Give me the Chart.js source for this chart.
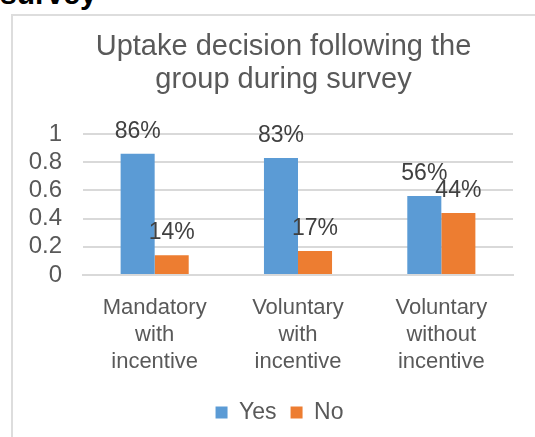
<!DOCTYPE html>
<html>
<head>
<meta charset="utf-8">
<script src="https://cdn.jsdelivr.net/npm/chart.js@4/dist/chart.umd.min.js"></script>
<style>
  html, body { margin: 0; padding: 0; background: #fff; overflow: hidden; }
  #heading {
    position: absolute; left: 0; top: -21px;
    font: bold 30px "Liberation Sans", Arial, sans-serif;
    line-height: 30px; color: #000; white-space: nowrap;
  }
  #frame {
    position: absolute; left: 11px; top: 14px;
    width: 600px; height: 500px;
    border: 2px solid #DDDDDD;
  }
  #wrap { position: absolute; left: 0; top: 0; width: 535px; height: 437px; }
</style>
</head>
<body>
<div id="heading">survey</div>
<div id="frame"></div>
<div id="wrap"><canvas id="chart" width="535" height="437"></canvas></div>
<script>
const categories = [
    ['Mandatory', 'with', 'incentive'],
    ['Voluntary', 'with', 'incentive'],
    ['Voluntary', 'without', 'incentive']
];
const yesValues = [0.86, 0.83, 0.56];
const noValues = [0.14, 0.17, 0.44];
const yTicks = [0, 0.2, 0.4, 0.6, 0.8, 1];

const FONT = '"Liberation Sans", Arial, sans-serif';
const TEXT = '#595959';

// percentage text above every bar
const valueLabels = {
    id: 'valueLabels',
    afterDatasetsDraw(chart) {
        const ctx = chart.ctx;
        ctx.save();
        ctx.font = '23px ' + FONT;
        ctx.fillStyle = '#404040';
        ctx.textAlign = 'center';
        ctx.textBaseline = 'alphabetic';
        chart.data.datasets.forEach((ds, i) => {
            chart.getDatasetMeta(i).data.forEach((bar, j) => {
                ctx.fillText(Math.round(ds.data[j] * 100) + '%', bar.x, bar.y - 16);
            });
        });
        ctx.restore();
    }
};

// title and legend sit a little right of the plot centre
const nudgeBoxes = {
    id: 'nudgeBoxes',
    afterLayout(chart) {
        const t = chart.titleBlock, l = chart.legend;
        if (t) { t.left += 13; t.right += 13; }
        if (l) { l.left += 9; l.right += 9; }
    }
};

new Chart(document.getElementById('chart'), {
    type: 'bar',
    data: {
        labels: categories,
        datasets: [
            { label: 'Yes', data: yesValues, backgroundColor: '#5B9BD5' },
            { label: 'No', data: noValues, backgroundColor: '#ED7D31' }
        ]
    },
    options: {
        responsive: false,
        animation: false,
        layout: { padding: { top: 31, left: 28, right: 22, bottom: 3 } },
        datasets: { bar: { categoryPercentage: 0.475, barPercentage: 1.0 } },
        plugins: {
            title: {
                display: true,
                text: ['Uptake decision following the', 'group during survey'],
                color: TEXT,
                font: { family: FONT, size: 29, weight: 'normal', lineHeight: 1.12 },
                padding: { top: 0, bottom: 38 }
            },
            legend: {
                position: 'bottom',
                labels: {
                    color: TEXT,
                    font: { family: FONT, size: 23 },
                    boxWidth: 12,
                    boxHeight: 12,
                    padding: 14
                }
            },
            tooltip: { enabled: false }
        },
        scales: {
            x: {
                grid: { display: false },
                border: { color: '#D9D9D9', width: 2 },
                ticks: {
                    color: TEXT,
                    font: { family: FONT, size: 22, lineHeight: 1.22 },
                    padding: 12,
                    maxRotation: 0
                },
                afterFit(scale) { scale.height = 112; }
            },
            y: {
                min: 0,
                max: 1,
                afterBuildTicks(scale) { scale.ticks = yTicks.map(v => ({ value: v })); },
                grid: { color: '#D9D9D9', lineWidth: 2, drawTicks: false },
                border: { display: false },
                ticks: {
                    color: TEXT,
                    font: { family: FONT, size: 24 },
                    padding: 21,
                    autoSkip: false,
                    callback: value => String(value)
                },
                afterFit(scale) { scale.width = 55; }
            }
        }
    },
    plugins: [valueLabels, nudgeBoxes]
});
</script>
</body>
</html>
